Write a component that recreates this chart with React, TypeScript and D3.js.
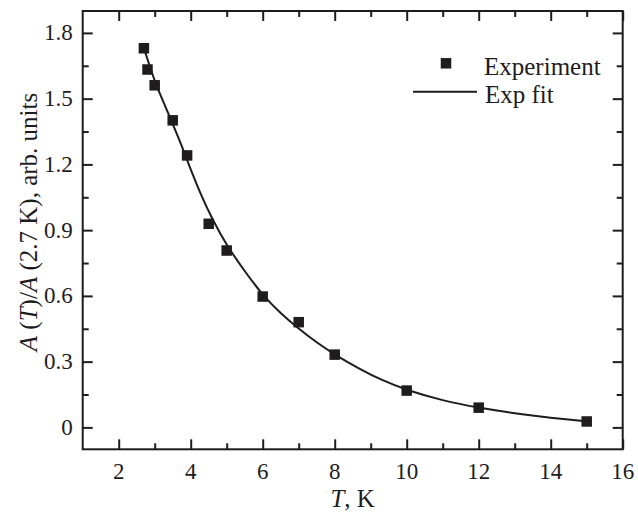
import React, { useEffect, useRef } from "react";
import * as d3 from "d3";

// measured points
const expT = [2.7, 2.8, 3.0, 3.5, 3.9, 4.5, 5.0, 6.0, 7.0, 8.0, 10.0, 12.0, 15.0];
const expA = [1.73, 1.633, 1.561, 1.401, 1.241, 0.929, 0.807, 0.597, 0.48, 0.332, 0.168, 0.09, 0.027];

// fit curve
const fitT = [2.7, 2.85, 3.0, 3.2, 3.4, 3.6, 3.8, 4.0, 4.3, 4.6, 5.0, 5.5, 6.0, 6.5, 7.0, 7.5, 8.0, 8.7, 9.3, 10.0, 11.0, 12.0, 13.0, 14.0, 15.0];
const fitA = [1.73, 1.655, 1.58, 1.5, 1.425, 1.345, 1.265, 1.175, 1.055, 0.95, 0.83, 0.712, 0.603, 0.52, 0.45, 0.387, 0.332, 0.266, 0.216, 0.17, 0.122, 0.089, 0.064, 0.044, 0.027];

const xTicks = [2, 4, 6, 8, 10, 12, 14, 16];
const xMinor = [3, 5, 7, 9, 11, 13, 15];
const yTicks = [0, 0.3, 0.6, 0.9, 1.2, 1.5, 1.8];
const yTickLabels = ["0", "0.3", "0.6", "0.9", "1.2", "1.5", "1.8"];
const yMinor = [0.15, 0.45, 0.75, 1.05, 1.35, 1.65];

const W = 638;
const H = 514;
const font = "Liberation Serif";
const ink = "#1e1c1d";

export default function App() {
  const ref = useRef<SVGSVGElement>(null);

  useEffect(() => {
    const svg = d3.select(ref.current);
    svg.selectAll("*").remove();

    const left = 82.7, right = 622.7, top = 11, bottom = 449.3;
    const x = d3.scaleLinear().domain([1, 16]).range([left, right]);
    const y = d3.scaleLinear().domain([-0.1, 1.9]).range([bottom, top]);

    const g = svg.append("g");

    // frame
    g.append("rect")
      .attr("x", left)
      .attr("y", top)
      .attr("width", right - left)
      .attr("height", bottom - top)
      .attr("fill", "none")
      .attr("stroke", ink)
      .attr("stroke-width", 2);

    const ticksOnly = (sel: any) => {
      sel.select(".domain").remove();
      sel.selectAll("text").remove();
      sel.selectAll("line").attr("stroke", ink).attr("stroke-width", 2);
    };

    const addAxis = (axis: any, tx: number, ty: number) =>
      g.append("g").attr("transform", `translate(${tx},${ty})`).call(axis).call(ticksOnly);

    addAxis(d3.axisBottom(x).tickValues(xTicks).tickSizeInner(-10).tickSizeOuter(0), 0, bottom);
    addAxis(d3.axisBottom(x).tickValues(xMinor).tickSizeInner(-6).tickSizeOuter(0), 0, bottom);
    addAxis(d3.axisTop(x).tickValues(xTicks).tickSizeInner(-10).tickSizeOuter(0), 0, top);
    addAxis(d3.axisTop(x).tickValues(xMinor).tickSizeInner(-6).tickSizeOuter(0), 0, top);
    addAxis(d3.axisLeft(y).tickValues(yTicks).tickSizeInner(-10).tickSizeOuter(0), left, 0);
    addAxis(d3.axisLeft(y).tickValues(yMinor).tickSizeInner(-6).tickSizeOuter(0), left, 0);
    addAxis(d3.axisRight(y).tickValues(yTicks).tickSizeInner(-10).tickSizeOuter(0), right, 0);
    addAxis(d3.axisRight(y).tickValues(yMinor).tickSizeInner(-6).tickSizeOuter(0), right, 0);

    // tick labels
    g.selectAll("text.xl")
      .data(xTicks)
      .join("text")
      .attr("class", "xl")
      .attr("x", (d) => x(d))
      .attr("y", bottom + 30)
      .attr("text-anchor", "middle")
      .attr("font-family", font)
      .attr("font-size", 23)
      .attr("fill", ink)
      .text((d) => String(d));

    g.selectAll("text.yl")
      .data(yTicks)
      .join("text")
      .attr("class", "yl")
      .attr("x", left - 10)
      .attr("y", (d) => y(d) + 7.5)
      .attr("text-anchor", "end")
      .attr("font-family", font)
      .attr("font-size", 23)
      .attr("fill", ink)
      .text((d, i) => yTickLabels[i]);

    // fit line
    const line = d3
      .line<number>()
      .x((d, i) => x(fitT[i]))
      .y((d) => y(d))
      .curve(d3.curveBasis);
    g.append("path")
      .attr("d", line(fitA))
      .attr("fill", "none")
      .attr("stroke", ink)
      .attr("stroke-width", 2);

    // experiment squares
    const sz = 10.5;
    g.selectAll("rect.pt")
      .data(expA)
      .join("rect")
      .attr("class", "pt")
      .attr("x", (d, i) => x(expT[i]) - sz / 2)
      .attr("y", (d) => y(d) - sz / 2)
      .attr("width", sz)
      .attr("height", sz)
      .attr("fill", ink);

    // legend
    g.append("rect").attr("x", 446 - sz / 2).attr("y", 63.3 - sz / 2).attr("width", sz).attr("height", sz).attr("fill", ink);
    g.append("text").attr("x", 484).attr("y", 74.5).attr("font-family", font).attr("font-size", 25).attr("fill", ink).text("Experiment");
    g.append("line").attr("x1", 413).attr("x2", 477).attr("y1", 91.7).attr("y2", 91.7).attr("stroke", ink).attr("stroke-width", 2);
    g.append("text").attr("x", 485).attr("y", 102.5).attr("font-family", font).attr("font-size", 25).attr("fill", ink).text("Exp fit");

    // x title
    const xt = g
      .append("text")
      .attr("x", (left + right) / 2)
      .attr("y", 507)
      .attr("text-anchor", "middle")
      .attr("font-family", font)
      .attr("font-size", 25)
      .attr("fill", ink);
    xt.append("tspan").attr("font-style", "italic").text("T");
    xt.append("tspan").text(", K");

    // y title
    const yt = g
      .append("text")
      .attr("transform", `translate(37,222) rotate(-90)`)
      .attr("text-anchor", "middle")
      .attr("font-family", font)
      .attr("font-size", 25)
      .attr("fill", ink);
    yt.append("tspan").attr("font-style", "italic").text("A");
    yt.append("tspan").text(" (");
    yt.append("tspan").attr("font-style", "italic").text("T");
    yt.append("tspan").text(")/");
    yt.append("tspan").attr("font-style", "italic").text("A");
    yt.append("tspan").text(" (2.7 K), arb. units");
  }, []);

  return (
    <svg
      ref={ref}
      width={W}
      height={H}
      style={{ position: "absolute", left: 0, top: 0, background: "#fff" }}
    />
  );
}
